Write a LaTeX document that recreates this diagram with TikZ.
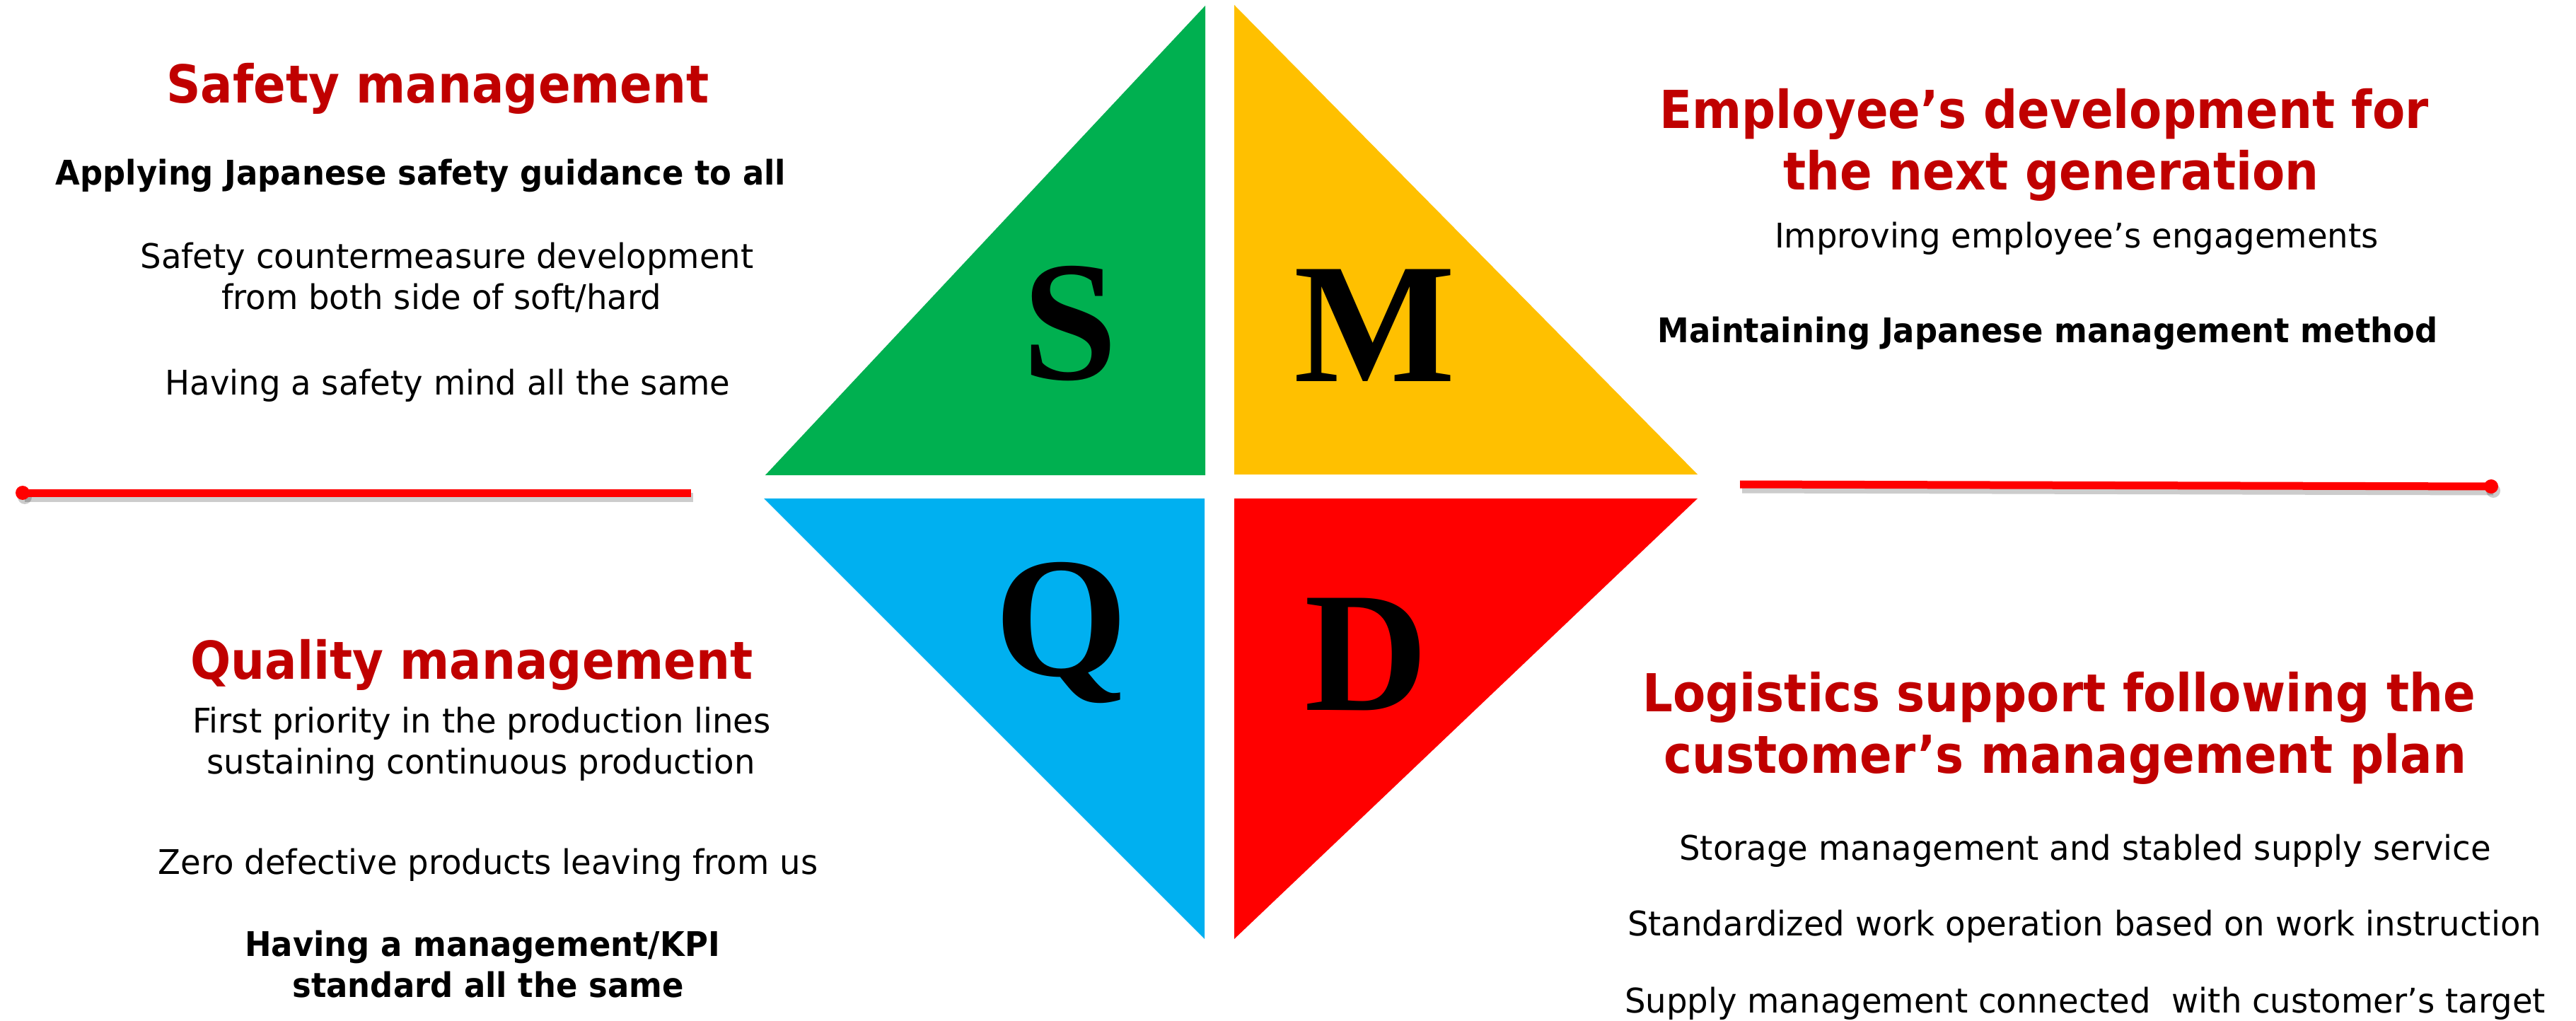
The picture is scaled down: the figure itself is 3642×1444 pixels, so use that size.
\documentclass[tikz,border=0pt]{standalone}
\usepackage{fontspec}
\setmainfont{DejaVu Sans}
\newfontfamily\headfont{DejaVu Sans}[FakeStretch=0.91]
\newfontfamily\bodyfont{DejaVu Sans}[FakeStretch=0.97]
\newfontfamily\boldfont{DejaVu Sans Bold}[FakeStretch=0.935]
\newfontfamily\letterfont{Liberation Serif}
\definecolor{qgreen}{HTML}{00B050}
\definecolor{qyellow}{HTML}{FFC000}
\definecolor{qblue}{HTML}{00B0F0}
\definecolor{qred}{HTML}{FF0000}
\definecolor{titlered}{HTML}{C00000}
\tikzset{
  headtext/.style={font=\headfont\bfseries\fontsize{37}{44}\selectfont, text=titlered, anchor=base, inner sep=0pt},
  bodytext/.style={font=\bodyfont\fontsize{24}{29}\selectfont, anchor=base, inner sep=0pt},
  boldtext/.style={font=\boldfont\fontsize{24}{29}\selectfont, anchor=base, inner sep=0pt},
  lettertext/.style={font=\letterfont\bfseries\fontsize{121}{140}\selectfont, anchor=base, inner sep=0pt},
  redline/.style={draw=qred, line width=5.5pt},
  shadowline/.style={draw=black, opacity=0.2, line width=6.5pt},
}
\begin{document}
\begin{tikzpicture}[x=0.5pt,y=-0.5pt]
\useasboundingbox (0,0) rectangle (3642,1444);
% quadrants
\fill[qgreen] (1082,672) -- (1704,8) -- (1704,672) -- cycle;
\fill[qyellow] (1745,7) -- (2400,671) -- (1745,671) -- cycle;
\fill[qblue] (1080,705) -- (1703,705) -- (1703,1328) -- cycle;
\fill[qred] (1745,705) -- (2400,705) -- (1745,1328) -- cycle;
% letters
\node[lettertext] (S) at (1513,537) {S};
\node[lettertext] (M) at (1944,539) {M};
\node[lettertext] (Q) at (1501,955) {Q};
\node[lettertext] (D) at (1932,1004) {D};
% separator lines
\coordinate (L1) at (32,697);
\coordinate (L2) at (977,697);
\coordinate (R1) at (2460,685);
\coordinate (R2) at (3522,688);
\draw[shadowline] ([shift={(3,6)}]L1) -- ([shift={(3,6)}]L2);
\draw[shadowline] ([shift={(3,6)}]R1) -- ([shift={(3,6)}]R2);
\fill[black, opacity=0.2] ([shift={(3,6)}]L1) circle (10);
\fill[black, opacity=0.2] ([shift={(3,6)}]R2) circle (10);
\draw[redline] (L1) -- (L2);
\draw[redline] (R1) -- (R2);
\fill[qred] (L1) circle (10);
\fill[qred] (R2) circle (10);
% Safety
\node[headtext] (st) at (619,146) {Safety management};
\node[boldtext] (s1) at (595,262) {Applying Japanese safety guidance to all};
\node[bodytext] (s2) at (632,380) {Safety countermeasure development};
\node[bodytext] (s3) at (624,438) {from both side of soft/hard};
\node[bodytext] (s4) at (633,559) {Having a safety mind all the same};
% Employee
\node[headtext] (mt1) at (2890,182) {Employee’s development for};
\node[headtext] (mt2) at (2900,269) {the next generation};
\node[bodytext] (m1) at (2936,351) {Improving employee’s engagements};
\node[boldtext] (m2) at (2895,485) {Maintaining Japanese management method};
% Quality
\node[headtext] (qt) at (667,960) {Quality management};
\node[bodytext] (q1) at (681,1036) {First priority in the production lines};
\node[bodytext] (q2) at (680,1094) {sustaining continuous production};
\node[bodytext] (q3) at (690,1236) {Zero defective products leaving from us};
\node[boldtext] (q4) at (682,1352) {Having a management/KPI};
\node[boldtext] (q5) at (690,1410) {standard all the same};
% Logistics
\node[headtext] (dt1) at (2911,1006) {Logistics support following the};
\node[headtext] (dt2) at (2920,1093) {customer’s management plan};
\node[bodytext] (d1) at (2948,1216) {Storage management and stabled supply service};
\node[bodytext] (d2) at (2947,1323) {Standardized work operation based on work instruction};
\node[bodytext] (d3) at (2948,1432) {Supply management connected\ \ with customer’s target};
\end{tikzpicture}
\end{document}
